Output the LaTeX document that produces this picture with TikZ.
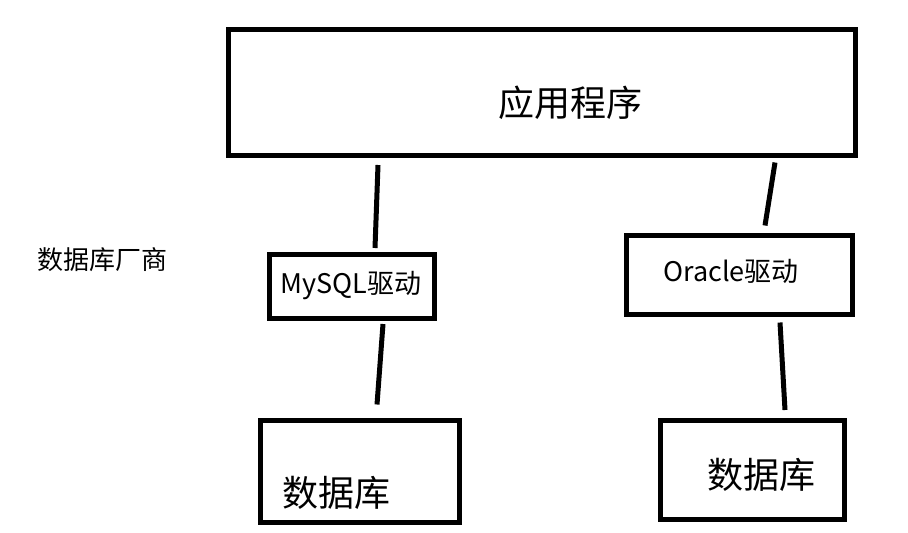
\documentclass[tikz,border=0pt]{standalone}
\usepackage{fontspec}
\setmainfont{Noto Sans CJK SC}
\usetikzlibrary{positioning}

\begin{document}
\begin{tikzpicture}[x=1pt,y=-1pt,
        box/.style={draw, line width=5pt, inner sep=0pt},
        wire/.style={line width=5pt},
        big/.style={font=\fontsize{36}{40}\selectfont},
        mid/.style={font=\fontsize{27}{30}\selectfont},
        small/.style={font=\fontsize{26}{29}\selectfont}]

        \useasboundingbox (0,0) rectangle (908,533);

        % boxes
        \node [box, minimum width=627pt, minimum height=126pt] (app) at (542,92.5) {};
        \node [box, minimum width=165pt, minimum height=64pt] (mysql) at (352,286.5) {};
        \node [box, minimum width=226pt, minimum height=79pt] (oracle) at (739.5,275) {};
        \node [box, minimum width=199pt, minimum height=102pt] (db1) at (360,471.5) {};
        \node [box, minimum width=184pt, minimum height=99pt] (db2) at (752.5,469.5) {};

        % texts
        \node [big] (appText) at (570,103) {应用程序};
        \node [mid] (mysqlText) at (351,286) {MySQL驱动};
        \node [mid] (oracleText) at (731,271) {Oracle驱动};
        \node [big] (db1Text) at (336,493) {数据库};
        \node [big] (db2Text) at (761,475) {数据库};
        \node [small] (vendor) at (102,260) {数据库厂商};

        % connectors
        \draw [wire] ([xshift=-164pt,yshift=-7pt]app.south) -- ([xshift=23pt,yshift=4pt]mysql.north);
        \draw [wire] ([xshift=31pt,yshift=-3pt]mysql.south) -- ([xshift=17pt,yshift=13.5pt]db1.north);
        \draw [wire] ([xshift=233pt,yshift=-4.5pt]app.south) -- ([xshift=25.5pt,yshift=7.5pt]oracle.north);
        \draw [wire] ([xshift=40.5pt,yshift=-5.5pt]oracle.south) -- ([xshift=32.5pt,yshift=7.5pt]db2.north);

\end{tikzpicture}
\end{document}
